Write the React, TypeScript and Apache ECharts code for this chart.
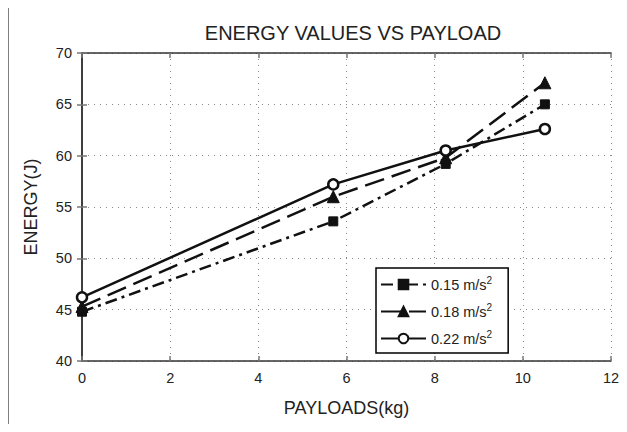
import React, { useEffect, useRef } from "react";
import * as echarts from "echarts";

const titleText = "ENERGY VALUES VS PAYLOAD";
const xName = "PAYLOADS(kg)";
const yName = "ENERGY(J)";
const payloads = [0, 5.7, 8.25, 10.5];
const seriesNames = ["0.15 m/s", "0.18 m/s", "0.22 m/s"];
const energy015 = [44.8, 53.6, 59.2, 65.0];
const energy018 = [45.3, 56.0, 59.8, 67.1];
const energy022 = [46.2, 57.2, 60.5, 62.6];

const FONT = "Liberation Sans, Arial, sans-serif";

export default function App() {
  const ref = useRef<HTMLDivElement>(null);
  useEffect(() => {
    const chart = echarts.init(ref.current!, null, { renderer: "svg" });
    const pts = (ys: number[]) => payloads.map((x, i) => [x, ys[i]]);
    const axisCommon = {
      axisLine: { show: true, lineStyle: { color: "#333", width: 1.5 } },
      axisTick: { show: true, inside: true, length: 5, lineStyle: { color: "#777", width: 1.5 } },
    };
    chart.setOption({
      animation: false,
      backgroundColor: "#fff",
      title: {
        text: titleText,
        left: 348,
        top: 18,
        textAlign: "center",
        textStyle: { fontSize: 20, fontWeight: "normal", color: "#222", fontFamily: FONT },
      },
      grid: { left: 82, right: 16, top: 53, bottom: 71, containLabel: false },
      legend: {
        orient: "vertical",
        left: 376,
        top: 268,
        itemWidth: 45,
        itemHeight: 12,
        itemGap: 10,
        padding: [7, 16, 7, 4],
        borderColor: "#000",
        borderWidth: 1.5,
        backgroundColor: "#fff",
        data: seriesNames,
        formatter: (name: string) => `{a|${name}}{s|2}`,
        textStyle: {
          color: "#222",
          fontFamily: FONT,
          rich: {
            a: { fontSize: 14.5, fontFamily: FONT, color: "#222" },
            s: { fontSize: 10, fontFamily: FONT, color: "#222", verticalAlign: "top", padding: [0, 0, 9, 0] },
          },
        },
      },
      xAxis: [
        {
          type: "value",
          min: 0,
          max: 12,
          interval: 2,
          name: xName,
          nameLocation: "middle",
          nameGap: 38,
          nameTextStyle: { fontSize: 18, color: "#222", fontFamily: FONT },
          axisLabel: { fontSize: 14.5, color: "#222", fontFamily: FONT, margin: 9 },
          splitLine: { show: true, lineStyle: { color: "#888", type: [1, 5], width: 1 } },
          ...axisCommon,
        },
        {
          type: "value",
          position: "top",
          min: 0,
          max: 12,
          interval: 2,
          axisLabel: { show: false },
          splitLine: { show: false },
          ...axisCommon,
        },
      ],
      yAxis: [
        {
          type: "value",
          min: 40,
          max: 70,
          interval: 5,
          name: yName,
          nameLocation: "middle",
          nameGap: 42,
          nameRotate: 90,
          nameTextStyle: { fontSize: 18, color: "#222", fontFamily: FONT },
          axisLabel: { fontSize: 14.5, color: "#222", fontFamily: FONT, margin: 10 },
          splitLine: { show: true, lineStyle: { color: "#888", type: [1, 5], width: 1 } },
          ...axisCommon,
        },
        {
          type: "value",
          position: "right",
          min: 40,
          max: 70,
          interval: 5,
          axisLabel: { show: false },
          splitLine: { show: false },
          ...axisCommon,
        },
      ],
      graphic: [
        { type: "rect", z: 100, shape: { x: 6, y: 4, width: 2.5, height: 428 }, style: { fill: "#000" } },
        { type: "rect", z: 100, shape: { x: 6, y: 4, width: 621, height: 2.5 }, style: { fill: "#000" } },
      ],
      series: [
        {
          name: seriesNames[0],
          type: "line",
          data: pts(energy015),
          symbol: "rect",
          symbolSize: 9,
          lineStyle: { color: "#111", width: 2.5, type: [12, 5, 3, 5] },
          itemStyle: { color: "#111", borderColor: "#111", borderWidth: 1 },
        },
        {
          name: seriesNames[1],
          type: "line",
          data: pts(energy018),
          symbol: "triangle",
          symbolSize: 12,
          lineStyle: { color: "#111", width: 2.5, type: [20, 8] },
          itemStyle: { color: "#111", borderColor: "#111", borderWidth: 1 },
        },
        {
          name: seriesNames[2],
          type: "line",
          data: pts(energy022),
          symbol: "circle",
          symbolSize: 10,
          lineStyle: { color: "#111", width: 2.5, type: "solid" },
          itemStyle: { color: "#fff", borderColor: "#111", borderWidth: 2.5 },
        },
      ],
    });
    return () => chart.dispose();
  }, []);
  return <div ref={ref} style={{ width: 627, height: 432, margin: -8 }} />;
}
